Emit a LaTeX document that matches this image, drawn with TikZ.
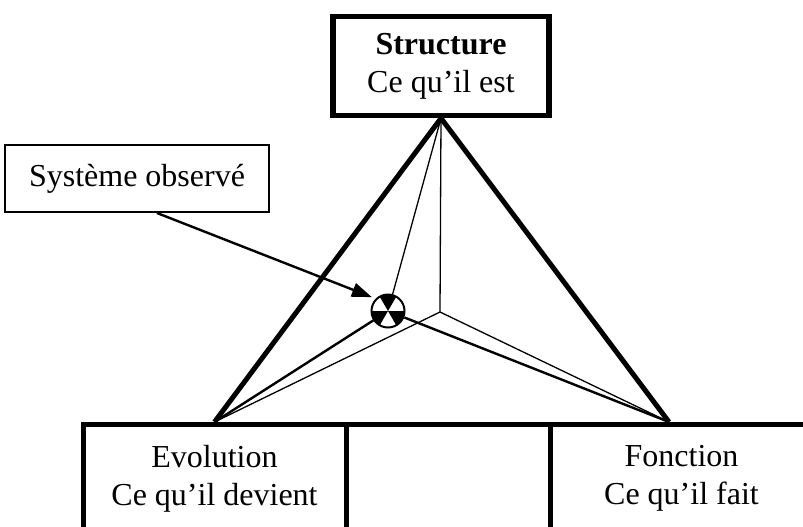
\documentclass[tikz,border=0pt]{standalone}
\usepackage{fontspec}
\setmainfont{Liberation Serif}
\usetikzlibrary{arrows.meta,positioning,calc}
\tikzset{
 txt/.style={font=\fontsize{16pt}{19pt}\selectfont,align=center},
 topbox/.style={txt,draw,line width=2.75pt,minimum width=108pt,minimum height=49.5pt,inner sep=0pt},
 basebox/.style={txt,draw,line width=2.5pt,minimum height=54pt,anchor=north,inner sep=0pt},
 obsbox/.style={txt,draw,line width=1pt,minimum height=33.5pt,inner xsep=12pt,anchor=east},
 sysmark/.style={circle,draw,line width=1pt,minimum size=16.5pt,inner sep=0pt},
 side/.style={line width=2.5pt},
 ray/.style={line width=1.2pt},
 fine/.style={line width=0.65pt},
 arr/.style={-{Triangle[length=10pt,width=7pt]},line width=1.2pt,shorten >=2pt}
}
\begin{document}
\begin{tikzpicture}[x=0.5pt,y=-0.5pt]
\useasboundingbox (0,0) rectangle (803,526);
\clip (0,0) rectangle (803,526);
\node[topbox] (struct) at (441,66) {\textbf{Structure}\\Ce qu’il est};
\node[basebox,minimum width=131.5pt] (evol) at (214.5,422) {Evolution\\Ce qu’il devient};
\node[basebox,minimum width=102pt] (mid) at (448,422) {};
\node[basebox,minimum width=131.5pt] (fonc) at (681.5,422) {Fonction\\Ce qu’il fait};
\node[obsbox] (obs) at (270,178.5) {Système observé};
\coordinate (fr) at (669,422);
\coordinate (core) at (440,312);
\node[sysmark] (sys) at (388,311) {};
\foreach \a in {60,180,300}
  \fill (sys.center) -- ++(\a:8.25pt) arc[start angle=\a,delta angle=60,radius=8.25pt] -- cycle;
\draw[side] (evol.north) -- (struct.south) -- (fr);
\draw[fine] (struct.south) -- (core);
\draw[fine] (core) -- (evol.north);
\draw[fine] (core) -- (fr);
\draw[fine] (struct.south) -- (sys);
\draw[ray] (sys) -- (evol.north);
\draw[ray] (sys) -- (fr);
\draw[arr] ($(obs.south)+(20,0)$) -- (sys.north west);
\end{tikzpicture}
\end{document}
